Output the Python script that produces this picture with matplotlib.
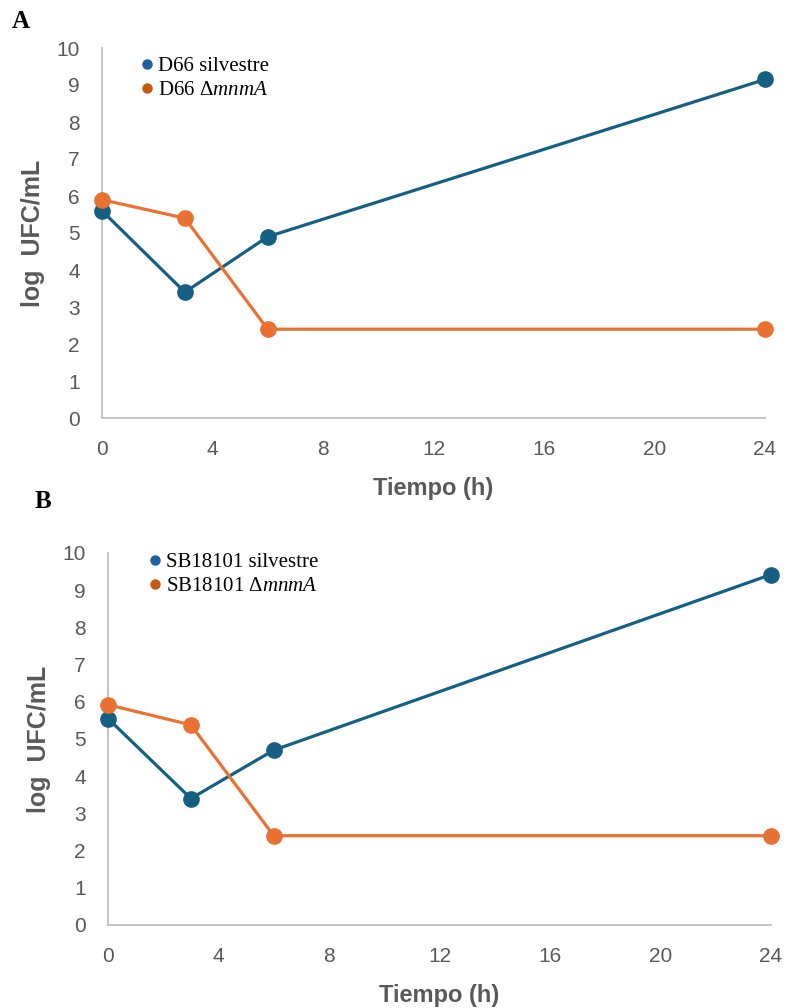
import matplotlib
matplotlib.use("Agg")
import matplotlib.pyplot as plt
from matplotlib.lines import Line2D

plt.rcParams['font.family'] = ['Liberation Sans', 'DejaVu Sans']
plt.rcParams['mathtext.fontset'] = 'custom'
plt.rcParams['mathtext.rm'] = 'Liberation Serif'
plt.rcParams['mathtext.it'] = 'Liberation Serif:italic'

# Data
time_h = [0, 3, 6, 24]
a_wild = [5.6, 3.4, 4.9, 9.15]
a_mut = [5.9, 5.4, 2.4, 2.4]
b_wild = [5.55, 3.4, 4.7, 9.42]
b_mut = [5.92, 5.38, 2.4, 2.4]
a_labels = ["D66 silvestre", r"D66 Δ$\mathit{mnmA}$"]
b_labels = ["SB18101 silvestre", r"SB18101 Δ$\mathit{mnmA}$"]
x_ticks = [0, 4, 8, 12, 16, 20, 24]
y_ticks = list(range(0, 11))

line_blue = '#156082'
line_orange = '#E97132'
leg_blue = '#1F5FA0'
leg_orange = '#C55A11'
gray = '#595959'
spine = '#BFBFBF'

fig = plt.figure(figsize=(7.86, 10.08), dpi=100)

def panel(rect, wild, mut, labels, letter, letter_pos, leg_anchor):
    ax = fig.add_axes(rect)
    ax.plot(time_h, wild, color=line_blue, lw=2.3, marker='o', ms=11, clip_on=False, zorder=3)
    ax.plot(time_h, mut, color=line_orange, lw=2.3, marker='o', ms=11, clip_on=False, zorder=3)
    ax.set_xlim(0, 24)
    ax.set_ylim(0, 10)
    ax.set_xticks(x_ticks)
    ax.set_yticks(y_ticks)
    for s in ['top', 'right']:
        ax.spines[s].set_visible(False)
    for s in ['left', 'bottom']:
        ax.spines[s].set_color(spine)
        ax.spines[s].set_linewidth(1.3)
    ax.tick_params(axis='both', length=0, labelsize=15, labelcolor=gray)
    ax.tick_params(axis='x', pad=16)
    ax.tick_params(axis='y', pad=16)
    ax.set_xlabel('Tiempo (h)', fontsize=17, fontweight='bold', color=gray, labelpad=13)
    ax.set_ylabel('log  UFC/mL', fontsize=18, fontweight='bold', color=gray, labelpad=8)
    handles = [Line2D([], [], ls='none', marker='o', ms=6.5, color=leg_blue),
               Line2D([], [], ls='none', marker='o', ms=6.5, color=leg_orange)]
    ax.legend(handles, labels, loc='upper left', bbox_to_anchor=leg_anchor,
              bbox_transform=fig.transFigure, frameon=False,
              prop={'family': 'Liberation Serif', 'size': 15},
              handlelength=0.6, handletextpad=0.25, labelspacing=0.22, borderpad=0)
    fig.text(letter_pos[0], letter_pos[1], letter, fontsize=18, fontweight='bold',
             family='Liberation Serif', color='black', ha='left', va='center')
    return ax

panel([102/786, 1-418/1008, (765-102)/786, (418-48)/1008], a_wild, a_mut, a_labels,
      'A', (12/786, 1-22/1008), (130/786, 1-46/1008))
panel([108/786, 1-925/1008, (771-108)/786, (925-553)/1008], b_wild, b_mut, b_labels,
      'B', (35/786, 1-502/1008), (138/786, 1-542/1008))

fig.savefig('out.png', dpi=100)
